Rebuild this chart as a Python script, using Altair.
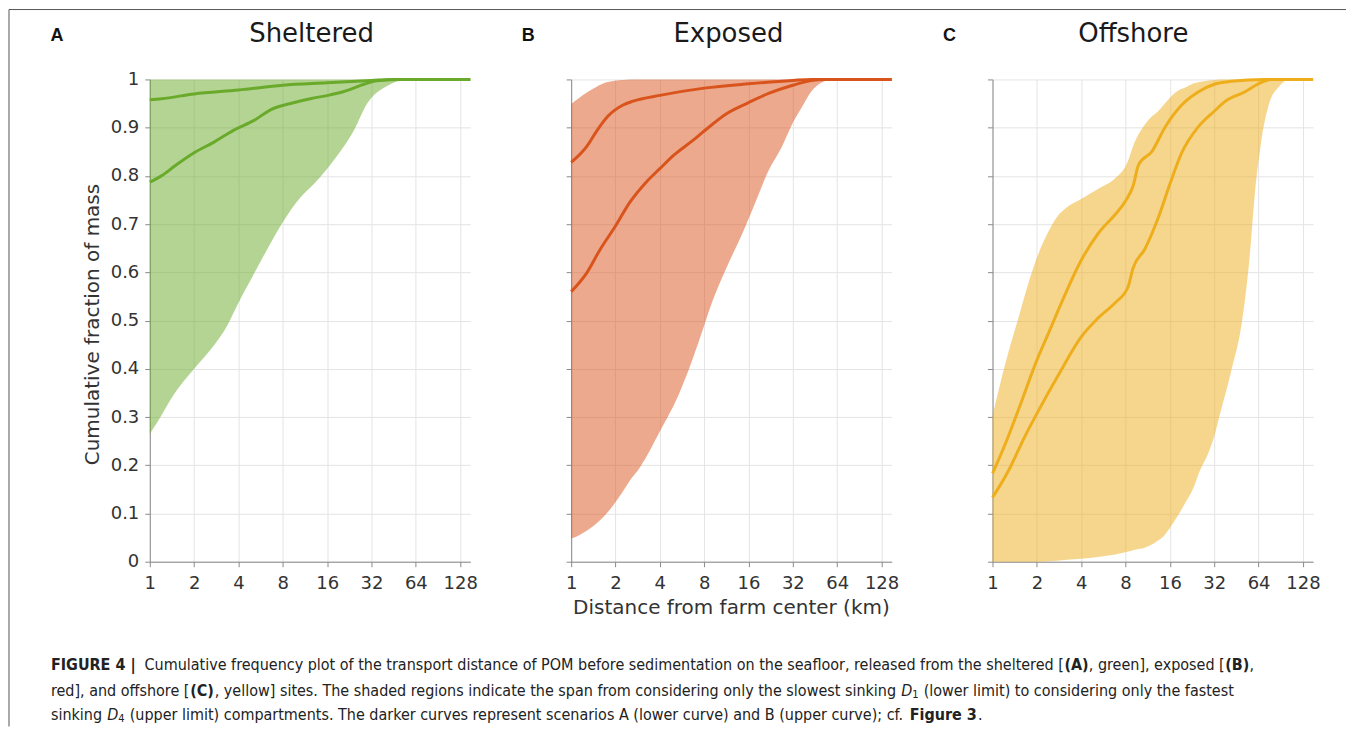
import altair as alt
import pandas as pd

X_TICKS = [1, 2, 4, 8, 16, 32, 64, 128]
Y_TICKS = [0, 0.1, 0.2, 0.3, 0.4, 0.5, 0.6, 0.7, 0.8, 0.9, 1.0]

# ---------------- Panel A: Sheltered ----------------
A_area_x = [1, 1.13, 1.46, 2, 2.59, 3.36, 4, 5.1, 6.27, 8, 10.6, 13, 16, 19.7, 24.3, 29.9, 32, 38.6, 50, 58, 150]
A_area_lo = [0.265, 0.29, 0.347, 0.40, 0.44, 0.49, 0.537, 0.597, 0.648, 0.704, 0.756, 0.783, 0.815, 0.851, 0.894, 0.95, 0.962, 0.982, 0.998, 1.0, 1.0]
A_area_hi = [1.0] * len(A_area_x)
A_lowcurve_x = [1, 1.2, 1.5, 2, 2.73, 3.72, 5.1, 6.6, 9.0, 12.3, 16.8, 20.8, 28.5, 34.8, 50, 150]
A_lowcurve_y = [0.787, 0.80, 0.822, 0.848, 0.87, 0.895, 0.915, 0.937, 0.95, 0.96, 0.968, 0.975, 0.99, 0.997, 1.0, 1.0]
A_upcurve_x = [1, 1.2, 2, 4, 8, 16, 32, 45, 150]
A_upcurve_y = [0.958, 0.96, 0.97, 0.978, 0.988, 0.993, 0.998, 1.0, 1.0]

# ---------------- Panel B: Exposed ----------------
B_area_x = [1, 1.15, 1.21, 1.49, 1.74, 2.25, 2.5, 2.92, 4, 5.43, 6.67, 8, 9.1, 11.2, 14.5, 17.8, 21.9, 26.9, 32, 36.7, 42.7, 49.9, 58.5, 150]
B_area_lo = [0.048, 0.056, 0.06, 0.08, 0.10, 0.146, 0.168, 0.195, 0.27, 0.35, 0.42, 0.49, 0.54, 0.606, 0.68, 0.745, 0.811, 0.86, 0.91, 0.942, 0.975, 0.993, 1.0, 1.0]
B_area_hi = [0.949, 0.963, 0.968, 0.985, 0.994, 0.999, 1.0, 1.0, 1.0, 1.0, 1.0, 1.0, 1.0, 1.0, 1.0, 1.0, 1.0, 1.0, 1.0, 1.0, 1.0, 1.0, 1.0, 1.0]
B_lowcurve_x = [1, 1.27, 1.57, 2, 2.5, 3.23, 4, 5.02, 6.67, 8, 11.2, 16, 21.9, 32, 42.7, 52.6, 150]
B_lowcurve_y = [0.56, 0.598, 0.647, 0.696, 0.745, 0.787, 0.815, 0.844, 0.873, 0.893, 0.928, 0.952, 0.971, 0.988, 0.998, 1.0, 1.0]
B_upcurve_x = [1, 1.27, 1.49, 1.78, 2.25, 2.63, 4, 8, 16, 32, 42.7, 150]
B_upcurve_y = [0.828, 0.86, 0.893, 0.924, 0.947, 0.955, 0.967, 0.982, 0.991, 0.998, 1.0, 1.0]

# ---------------- Panel C: Offshore ----------------
C_area_x = [1, 1.22, 1.5, 1.75, 2, 2.4, 2.74, 3.2, 4, 5.2, 6.8, 8.1, 9.25, 10.8, 11.6, 13.3, 14.6, 16, 18.5, 20.2, 23.4, 24.9, 29.6, 32, 34.6, 41.7, 49.5, 55.3, 60.6, 66.6, 75.5, 88, 103, 150]
C_area_hi = [0.303, 0.41, 0.506, 0.577, 0.63, 0.685, 0.715, 0.735, 0.752, 0.773, 0.795, 0.823, 0.871, 0.906, 0.918, 0.934, 0.948, 0.962, 0.978, 0.983, 0.992, 0.994, 0.998, 0.999, 1.0, 1.0, 1.0, 1.0, 1.0, 1.0, 1.0, 1.0, 1.0, 1.0]
C_area_lo = [0.0, 0.0, 0.0, 0.0, 0.0, 0.001, 0.002, 0.004, 0.006, 0.01, 0.015, 0.02, 0.025, 0.029, 0.033, 0.044, 0.054, 0.07, 0.10, 0.12, 0.157, 0.18, 0.23, 0.26, 0.30, 0.395, 0.50, 0.623, 0.768, 0.87, 0.95, 0.985, 1.0, 1.0]
C_lowcurve_x = [1, 1.28, 1.66, 2, 2.8, 4, 5.2, 6.8, 8.3, 9.0, 10.8, 13.3, 16, 19.2, 25, 32, 37.8, 51.4, 63, 77.9, 150]
C_lowcurve_y = [0.133, 0.188, 0.26, 0.307, 0.387, 0.466, 0.505, 0.537, 0.569, 0.609, 0.648, 0.712, 0.783, 0.847, 0.902, 0.934, 0.954, 0.974, 0.99, 1.0, 1.0]
C_upcurve_x = [1, 1.22, 1.5, 2, 2.4, 2.94, 4, 5.2, 6.8, 8, 9.0, 9.8, 12.1, 14.9, 19.1, 24.9, 32, 41.8, 70, 150]
C_upcurve_y = [0.183, 0.244, 0.315, 0.418, 0.474, 0.537, 0.625, 0.68, 0.72, 0.748, 0.779, 0.823, 0.851, 0.902, 0.946, 0.974, 0.99, 0.996, 1.0, 1.0]

TITLES = ["Sheltered", "Exposed", "Offshore"]
LETTERS = ["A", "B", "C"]
LINE_COLORS = ["#6aaa2a", "#d9541c", "#eeae1c"]
Y_TITLE = "Cumulative fraction of mass"
X_TITLE = "Distance from farm center (km)"

# Caption: (text, style, space_before); one list per line
CAPTION_LINES = [
    [("FIGURE 4 |", "b", False),
     ("Cumulative frequency plot of the transport distance of POM before sedimentation on the seafloor, released from the sheltered [", "r", True),
     ("(A)", "b", False),
     (", green], exposed [", "r", False),
     ("(B)", "b", False),
     (",", "r", False)],
    [("red], and offshore [", "r", False),
     ("(C)", "b", False),
     (", yellow] sites. The shaded regions indicate the span from considering only the slowest sinking", "r", False),
     ("D", "i", True),
     ("1", "s", False),
     ("(lower limit) to considering only the fastest", "r", True)],
    [("sinking", "r", False),
     ("D", "i", True),
     ("4", "s", False),
     ("(upper limit) compartments. The darker curves represent scenarios A (lower curve) and B (upper curve); cf.", "r", True),
     ("Figure 3", "b", True),
     (".", "r", False)],
]

PW, PH = 321, 483
FONT = "DejaVu Sans"
CAP_FONT = "DejaVu Sans Condensed, DejaVu Sans, sans-serif"
AXIS_GRAY = "#8a8a8a"
TXT = "#333333"

# approximate DejaVu Sans advance widths (em) used to lay caption segments side by side
CW = {" ": 0.318, "a": 0.613, "b": 0.635, "c": 0.550, "d": 0.635, "e": 0.615, "f": 0.352,
      "g": 0.635, "h": 0.634, "i": 0.278, "j": 0.278, "k": 0.579, "l": 0.278, "m": 0.974,
      "n": 0.634, "o": 0.612, "p": 0.635, "q": 0.635, "r": 0.411, "s": 0.521, "t": 0.392,
      "u": 0.634, "v": 0.592, "w": 0.818, "x": 0.592, "y": 0.592, "z": 0.525,
      "A": 0.684, "B": 0.686, "C": 0.698, "D": 0.770, "E": 0.632, "F": 0.575, "G": 0.775,
      "I": 0.295, "M": 0.863, "O": 0.787, "P": 0.603, "R": 0.695, "T": 0.611, "U": 0.732,
      ".": 0.318, ",": 0.318, ";": 0.337, "(": 0.390, ")": 0.390, "[": 0.390, "]": 0.390,
      "|": 0.337}
STYLE = {"r": dict(fontSize=16), "b": dict(fontSize=16, fontWeight="bold"),
         "i": dict(fontSize=16, fontStyle="italic"), "s": dict(fontSize=11)}


def text_width(s, style):
    size = STYLE[style]["fontSize"]
    w = sum(CW.get(ch, 0.636) for ch in s) * size * 0.898
    if style == "b":
        w *= 1.16
    return w


def caption_layers(ox, oy):
    layers = []
    line_y = [664, 690, 715]
    for line, ly in zip(CAPTION_LINES, line_y):
        cx = 50.0
        for txt, st, gap in line:
            if gap:
                cx += 5.2
            dy = 4 if st == "s" else 0
            df = pd.DataFrame({"t": [txt]})
            layers.append(
                alt.Chart(df).mark_text(font=CAP_FONT, color="#222222", align="left",
                                        baseline="middle", **STYLE[st]).encode(
                    x=alt.value(cx - ox), y=alt.value(ly + dy - oy), text="t:N")
            )
            cx += text_width(txt, st)
    return layers


def panel(i, ax, lo, hi, c1x, c1y, c2x, c2y, title_dx, letter_dx):
    color = LINE_COLORS[i]
    area_df = pd.DataFrame({"x": ax, "lo": lo, "hi": hi})
    line_df = pd.concat([
        pd.DataFrame({"x": c1x, "y": c1y, "curve": "A"}),
        pd.DataFrame({"x": c2x, "y": c2y, "curve": "B"}),
    ])
    xscale = alt.Scale(type="log", base=2, domain=[1, 150], nice=False)
    yscale = alt.Scale(domain=[0, 1], nice=False, zero=False)
    xaxis_kw = dict(values=X_TICKS, format="d", grid=True, gridColor="#e4e4e4",
                    labelFont=FONT, labelFontSize=18, labelColor=TXT, labelPadding=8,
                    tickSize=5, tickColor=AXIS_GRAY, domainColor=AXIS_GRAY,
                    labelFlush=False, labelOverlap=False)
    if i == 1:
        xaxis = alt.Axis(title=X_TITLE, titleFont=FONT, titleFontSize=20, titleColor=TXT,
                         titleFontWeight="normal", titleX=160, titleY=46,
                         titleBaseline="middle", titleAlign="center", **xaxis_kw)
    else:
        xaxis = alt.Axis(title=None, **xaxis_kw)
    yaxis_kw = dict(values=Y_TICKS, grid=True, gridColor="#e4e4e4", tickSize=5,
                    tickColor=AXIS_GRAY, domainColor=AXIS_GRAY, labelFlush=False)
    if i == 0:
        yaxis = alt.Axis(title=Y_TITLE, format="~g", labelFont=FONT, labelFontSize=18,
                         labelColor=TXT, labelPadding=6, labelOverlap=False,
                         titleFont=FONT, titleFontSize=20, titleColor=TXT,
                         titleFontWeight="normal", titleX=-57, titleY=245,
                         titleAngle=-90, titleBaseline="middle", titleAlign="center",
                         **yaxis_kw)
    else:
        yaxis = alt.Axis(title=None, labels=False, **yaxis_kw)

    area = alt.Chart(area_df).mark_area(color=color, opacity=0.5, interpolate="monotone").encode(
        x=alt.X("x:Q", scale=xscale, axis=xaxis),
        y=alt.Y("lo:Q", scale=yscale, axis=yaxis),
        y2="hi:Q",
    )
    lines = alt.Chart(line_df).mark_line(color=color, strokeWidth=3, interpolate="monotone").encode(
        x=alt.X("x:Q", scale=xscale),
        y=alt.Y("y:Q", scale=yscale),
        detail="curve:N",
    )
    tdf = pd.DataFrame({"t": [TITLES[i]]})
    title = alt.Chart(tdf).mark_text(font=FONT, fontSize=26, color="#1a1a1a",
                                     align="center", baseline="middle").encode(
        x=alt.value(title_dx), y=alt.value(-45), text="t:N")
    ldf = pd.DataFrame({"t": [LETTERS[i]]})
    letter = alt.Chart(ldf).mark_text(font="Liberation Sans", fontWeight="bold", fontSize=18,
                                      color="#111111", align="center", baseline="middle").encode(
        x=alt.value(letter_dx), y=alt.value(-43), text="t:N")
    layers = [area, lines, title, letter]
    if i == 0:
        bdf = pd.DataFrame({"k": [0]})
        top_line = alt.Chart(bdf).mark_rule(color="#555555", strokeWidth=1).encode(
            x=alt.value(-141), x2=alt.value(1198), y=alt.value(-70))
        left_line = alt.Chart(bdf).mark_rule(color="#555555", strokeWidth=1).encode(
            x=alt.value(-141), y=alt.value(-70), y2=alt.value(648))
        layers += [top_line, left_line]
        layers += caption_layers(149, 78)
    return alt.layer(*layers).properties(width=PW, height=PH)


pA = panel(0, A_area_x, A_area_lo, A_area_hi, A_lowcurve_x, A_lowcurve_y, A_upcurve_x, A_upcurve_y, 162, -93)
pB = panel(1, B_area_x, B_area_lo, B_area_hi, B_lowcurve_x, B_lowcurve_y, B_upcurve_x, B_upcurve_y, 157.5, -43)
pC = panel(2, C_area_x, C_area_lo, C_area_hi, C_lowcurve_x, C_lowcurve_y, C_upcurve_x, C_upcurve_y, 141, -43)

chart = alt.hconcat(pA, pB, pC, spacing=101, bounds="flush").properties(
    padding=0, background="white"
).configure_view(strokeWidth=0)

chart.save("out.html", embed_options={"renderer": "svg", "actions": False})
